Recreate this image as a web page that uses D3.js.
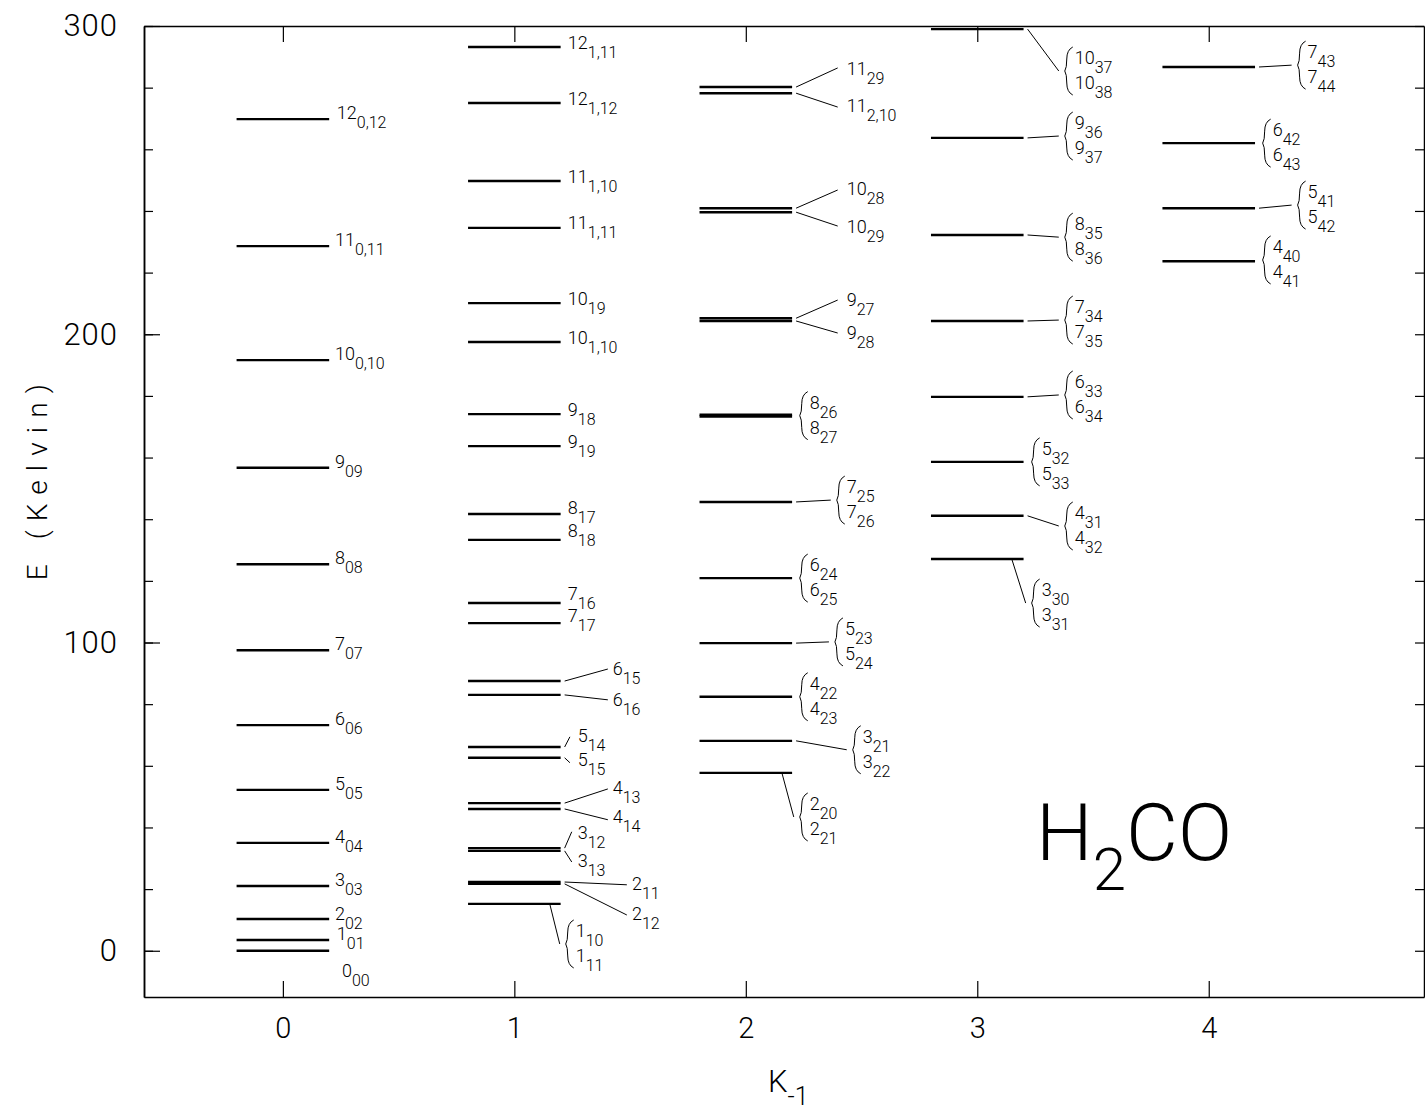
<!DOCTYPE html>
<html>
<head>
<meta charset="utf-8">
<script src="https://cdn.jsdelivr.net/npm/d3@7"></script>
<style>
  body { margin: 0; background: #fff; }
  svg text { font-family: Roboto, "DejaVu Sans", sans-serif; font-weight: 300; fill: #000; }
</style>
</head>
<body>
<div id="chart"></div>
<script>
// K_-1 ladders on the x axis
const ladderK = [0, 1, 2, 3, 4];

// level energies (Kelvin) per ladder
const levelsK0 = [0, 3.5, 10.3, 21.0, 35.0, 52.2, 73.2, 97.5, 125.4, 156.7, 191.6, 228.6, 269.8];
const levelsK1 = [15.2, 21.7, 22.3, 32.4, 33.3, 46.0, 47.9, 62.6, 66.1, 83.0, 87.5, 106.3, 112.8,
                  133.3, 141.7, 163.7, 174.1, 197.5, 210.1, 234.5, 249.7, 275.0, 293.2];
const levelsK2 = [57.7, 68.1, 82.4, 99.8, 120.9, 145.6, 173.3, 173.9, 204.3, 205.2, 239.6, 240.9, 278.2, 280.2];
const levelsK3 = [127.1, 141.1, 158.6, 179.7, 204.3, 232.2, 263.7, 299.0];
const levelsK4 = [223.7, 240.9, 262.0, 286.7];

// y ticks
const yMajor = [0, 100, 200, 300];
const yMinor = d3.range(0, 301, 20);

// single labels J_{KaKc}: label anchor (lx, ly) in data units, optional leader from level end
const singleLabels = [
  { t: "0", s: "00", lx: 0.255, ly: -8.5 },
  { t: "1", s: "01", lx: 0.233, ly: 3.5 },
  { t: "2", s: "02", lx: 0.225, ly: 10.0 },
  { t: "3", s: "03", lx: 0.225, ly: 21.0 },
  { t: "4", s: "04", lx: 0.225, ly: 35.0 },
  { t: "5", s: "05", lx: 0.225, ly: 52.2 },
  { t: "6", s: "06", lx: 0.225, ly: 73.2 },
  { t: "7", s: "07", lx: 0.225, ly: 97.5 },
  { t: "8", s: "08", lx: 0.225, ly: 125.4 },
  { t: "9", s: "09", lx: 0.225, ly: 156.7 },
  { t: "10", s: "0,10", lx: 0.225, ly: 191.6 },
  { t: "11", s: "0,11", lx: 0.225, ly: 228.6 },
  { t: "12", s: "0,12", lx: 0.233, ly: 269.8 },

  { t: "12", s: "1,11", lx: 1.231, ly: 292.6 },
  { t: "12", s: "1,12", lx: 1.231, ly: 274.5 },
  { t: "11", s: "1,10", lx: 1.231, ly: 249.2 },
  { t: "11", s: "1,11", lx: 1.231, ly: 234.0 },
  { t: "10", s: "19", lx: 1.231, ly: 209.6 },
  { t: "10", s: "1,10", lx: 1.231, ly: 197.0 },
  { t: "9", s: "18", lx: 1.231, ly: 173.6 },
  { t: "9", s: "19", lx: 1.231, ly: 163.2 },
  { t: "8", s: "17", lx: 1.231, ly: 141.7 },
  { t: "8", s: "18", lx: 1.231, ly: 134.3 },
  { t: "7", s: "16", lx: 1.231, ly: 113.9 },
  { t: "7", s: "17", lx: 1.231, ly: 106.5 },
  { t: "6", s: "15", lx: 1.425, ly: 89.5, k: 1, e: 87.5, lead: [1.404, 91.4] },
  { t: "6", s: "16", lx: 1.425, ly: 79.4, k: 1, e: 83.0, lead: [1.404, 81.4] },
  { t: "5", s: "14", lx: 1.274, ly: 67.7, k: 1, e: 66.1, lead: [1.240, 69.4] },
  { t: "5", s: "15", lx: 1.274, ly: 60.0, k: 1, e: 62.6, lead: [1.240, 61.0] },
  { t: "4", s: "13", lx: 1.425, ly: 50.9, k: 1, e: 47.9, lead: [1.404, 52.5] },
  { t: "4", s: "14", lx: 1.425, ly: 41.5, k: 1, e: 46.0, lead: [1.404, 42.5] },
  { t: "3", s: "12", lx: 1.274, ly: 36.3, k: 1, e: 33.3, lead: [1.248, 38.6] },
  { t: "3", s: "13", lx: 1.274, ly: 27.2, k: 1, e: 32.4, lead: [1.248, 28.8] },
  { t: "2", s: "11", lx: 1.508, ly: 19.7, k: 1, e: 22.3, lead: [1.486, 21.4] },
  { t: "2", s: "12", lx: 1.508, ly: 10.0, k: 1, e: 21.7, lead: [1.486, 11.6] },

  { t: "11", s: "29", lx: 2.436, ly: 284.0, k: 2, e: 280.2, lead: [2.397, 286.4] },
  { t: "11", s: "2,10", lx: 2.436, ly: 272.1, k: 2, e: 278.2, lead: [2.397, 273.7] },
  { t: "10", s: "28", lx: 2.436, ly: 245.2, k: 2, e: 240.9, lead: [2.397, 246.8] },
  { t: "10", s: "29", lx: 2.436, ly: 232.9, k: 2, e: 239.6, lead: [2.397, 235.1] },
  { t: "9", s: "27", lx: 2.436, ly: 209.1, k: 2, e: 205.2, lead: [2.397, 211.1] },
  { t: "9", s: "28", lx: 2.436, ly: 198.4, k: 2, e: 204.3, lead: [2.397, 200.4] }
];

// brace labels for near-degenerate pairs: brace tip (bx, by), optional leader
const braceLabels = [
  { t: "1", s: ["10", "11"], k: 1, e: 15.2, bx: 1.222, by: 2.2, lead: true, from: 1.153 },
  { t: "2", s: ["20", "21"], k: 2, e: 57.7, bx: 2.233, by: 43.4, lead: true, from: 2.156 },
  { t: "3", s: ["21", "22"], k: 2, e: 68.1, bx: 2.462, by: 65.2, lead: true },
  { t: "4", s: ["22", "23"], k: 2, e: 82.4, bx: 2.233, by: 82.4 },
  { t: "5", s: ["23", "24"], k: 2, e: 99.8, bx: 2.385, by: 100.2, lead: true },
  { t: "6", s: ["24", "25"], k: 2, e: 120.9, bx: 2.233, by: 120.9 },
  { t: "7", s: ["25", "26"], k: 2, e: 145.6, bx: 2.393, by: 146.2, lead: true },
  { t: "8", s: ["26", "27"], k: 2, e: 173.6, bx: 2.233, by: 173.6 },
  { t: "3", s: ["30", "31"], k: 3, e: 127.1, bx: 3.235, by: 112.8, lead: true, from: 3.149 },
  { t: "4", s: ["31", "32"], k: 3, e: 141.1, bx: 3.378, by: 137.8, lead: true },
  { t: "5", s: ["32", "33"], k: 3, e: 158.6, bx: 3.235, by: 158.6 },
  { t: "6", s: ["33", "34"], k: 3, e: 179.7, bx: 3.378, by: 180.3, lead: true },
  { t: "7", s: ["34", "35"], k: 3, e: 204.3, bx: 3.378, by: 204.6, lead: true },
  { t: "8", s: ["35", "36"], k: 3, e: 232.2, bx: 3.378, by: 231.5, lead: true },
  { t: "9", s: ["36", "37"], k: 3, e: 263.7, bx: 3.378, by: 264.3, lead: true },
  { t: "10", s: ["37", "38"], k: 3, e: 299.0, bx: 3.378, by: 285.4, lead: true },
  { t: "4", s: ["40", "41"], k: 4, e: 223.7, bx: 4.233, by: 224.1 },
  { t: "5", s: ["41", "42"], k: 4, e: 240.9, bx: 4.384, by: 241.9, lead: true },
  { t: "6", s: ["42", "43"], k: 4, e: 262.0, bx: 4.233, by: 262.0 },
  { t: "7", s: ["43", "44"], k: 4, e: 286.7, bx: 4.384, by: 287.3, lead: true }
];

const W = 1425, H = 1112;
const margin = { top: 26, right: 1, bottom: 115, left: 144 };

const svg = d3.select("#chart").append("svg")
  .attr("width", W).attr("height", H);

const x = d3.scaleLinear().domain([-0.6, 4.93]).range([margin.left, W - margin.right]);
const y = d3.scaleLinear().domain([-15, 300]).range([H - margin.bottom, margin.top]);

const halfW = 0.2;      // level line half width in K units

// axes (ticks point inward)
function styleAxis(g) {
  g.selectAll("path.domain").attr("stroke", "#000").attr("stroke-width", 1.5);
  g.selectAll(".tick line").attr("stroke", "#000").attr("stroke-width", 1.2);
}

svg.append("g")
  .attr("transform", `translate(0,${y(-15)})`)
  .call(d3.axisBottom(x).tickValues(ladderK).tickSize(-16).tickSizeOuter(0).tickPadding(20).tickFormat(d3.format("d")))
  .call(styleAxis)
  .selectAll("text").style("font-size", "29px");

svg.append("g")
  .attr("transform", `translate(0,${y(300)})`)
  .call(d3.axisTop(x).tickValues(ladderK).tickSize(-16).tickSizeOuter(0).tickFormat(""))
  .call(styleAxis);

svg.append("g")
  .attr("transform", `translate(${x(-0.6)},0)`)
  .call(d3.axisLeft(y).tickValues(yMinor).tickSize(-9).tickSizeOuter(0).tickFormat(""))
  .call(styleAxis);

svg.append("g")
  .attr("transform", `translate(${x(-0.6)},0)`)
  .call(d3.axisLeft(y).tickValues(yMajor).tickSize(-16).tickSizeOuter(0).tickPadding(26))
  .call(styleAxis)
  .selectAll("text").style("font-size", "31px").style("letter-spacing", "1px");

svg.append("g")
  .attr("transform", `translate(${x(4.93)},0)`)
  .call(d3.axisRight(y).tickValues(yMinor).tickSize(-9).tickSizeOuter(0).tickFormat(""))
  .call(styleAxis);

svg.selectAll(".tick text").attr("font-family", null).attr("fill", "#000");

// axis titles
svg.append("text")
  .attr("transform", `translate(47,${y(152)}) rotate(-90)`)
  .attr("text-anchor", "middle")
  .attr("textLength", 196)
  .attr("lengthAdjust", "spacing")
  .style("font-size", "28px")
  .text("E (Kelvin)");

const kt = svg.append("text")
  .attr("x", 768).attr("y", 1092)
  .style("font-size", "31px");
kt.append("tspan").text("K");
kt.append("tspan").attr("dy", 13).style("font-size", "25px").text("-1");

// energy levels
const ladders = [levelsK0, levelsK1, levelsK2, levelsK3, levelsK4];
const levelData = ladders.flatMap((arr, i) => arr.map(e => ({ k: ladderK[i], e })));

svg.append("g").selectAll("line")
  .data(levelData)
  .join("line")
  .attr("x1", d => x(d.k - halfW))
  .attr("x2", d => x(d.k + halfW))
  .attr("y1", d => y(d.e))
  .attr("y2", d => y(d.e))
  .attr("stroke", "#000")
  .attr("stroke-width", 2.4);

// label helper: J with subscript KaKc
function addLabel(g, px, py, main, sub) {
  const t = g.append("text").attr("x", px).attr("y", py).style("font-size", "18px");
  t.append("tspan").text(main);
  t.append("tspan").attr("dy", 9).style("font-size", "16px").text(sub);
}

const lab = svg.append("g");
const leaders = svg.append("g").attr("stroke", "#000").attr("stroke-width", 1).attr("fill", "none");

singleLabels.forEach(d => {
  if (d.lead) {
    leaders.append("line")
      .attr("x1", x(d.k + halfW) + 4).attr("y1", y(d.e))
      .attr("x2", x(d.lead[0])).attr("y2", y(d.lead[1]));
  }
  addLabel(lab, x(d.lx), y(d.ly), d.t, d.s);
});

function bracePath(px, py) {
  return `M${px + 8},${py - 24} Q${px + 2},${py - 21} ${px + 2},${py - 12}` +
         ` Q${px + 2},${py - 3} ${px},${py}` +
         ` Q${px + 2},${py + 3} ${px + 2},${py + 12}` +
         ` Q${px + 2},${py + 21} ${px + 8},${py + 24}`;
}

braceLabels.forEach(d => {
  const bx = x(d.bx), by = y(d.by);
  if (d.lead) {
    const sx = d.from !== undefined ? x(d.from) : x(d.k + halfW) + 4;
    leaders.append("line")
      .attr("x1", sx).attr("y1", y(d.e))
      .attr("x2", bx - 6).attr("y2", by);
  }
  leaders.append("path").attr("d", bracePath(bx, by));
  addLabel(lab, bx + 10, by - 7, d.t, d.s[0]);
  addLabel(lab, bx + 10, by + 18, d.t, d.s[1]);
});

// molecule name
const mol = svg.append("text")
  .attr("x", 1036).attr("y", 860)
  .style("font-size", "80px");
mol.append("tspan").text("H");
mol.append("tspan").attr("dy", 30).style("font-size", "60px").text("2");
mol.append("tspan").attr("dy", -30).text("CO");
</script>
</body>
</html>
